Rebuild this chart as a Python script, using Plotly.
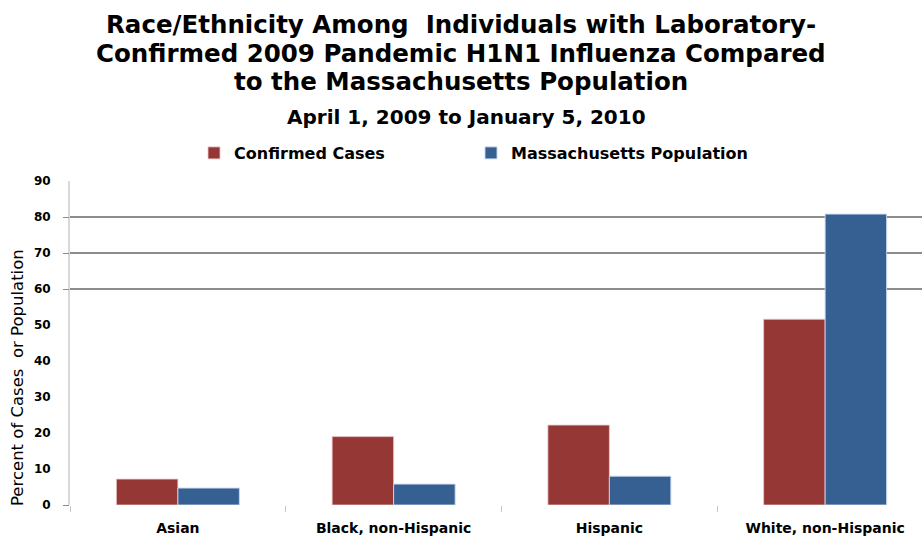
import plotly.graph_objects as go

categories = ["Asian", "Black, non-Hispanic", "Hispanic", "White, non-Hispanic"]
confirmed_cases = [7.2, 19.0, 22.2, 51.6]
ma_population = [4.7, 5.8, 8.0, 80.8]
y_ticks = [0, 10, 20, 30, 40, 50, 60, 70, 80, 90]
grid_levels = [0, 60, 70, 80]

title_lines = [
    "Race/Ethnicity Among  Individuals with Laboratory-",
    "Confirmed 2009 Pandemic H1N1 Influenza Compared",
    "to the Massachusetts Population",
]
subtitle = "April 1, 2009 to January 5, 2010"

FONT = "DejaVu Sans"
RED = "#953735"
BLUE = "#376092"

# plot-area geometry in page pixels
W, H = 922, 540
L, T, B = 70, 181, 35
PW, PH = W - L, H - T - B


def px_x(x):
    return (x - L) / PW


def px_y(y):
    return (H - B - y) / PH


fig = go.Figure()
fig.add_trace(go.Bar(
    name="<b>Confirmed Cases</b>", x=categories, y=confirmed_cases,
    marker=dict(color=RED, line=dict(color="rgba(235,200,200,0.8)", width=1)),
))
fig.add_trace(go.Bar(
    name="<b>Massachusetts Population</b>", x=categories, y=ma_population,
    marker=dict(color=BLUE, line=dict(color="rgba(200,215,240,0.9)", width=1)),
))
# invisible trace carrying the overlay axis that draws the gridlines
fig.add_trace(go.Scatter(x=[categories[0]], y=[0], yaxis="y2", mode="markers",
                         marker=dict(opacity=0), showlegend=False, hoverinfo="skip"))

fig.update_layout(
    width=W, height=H,
    margin=dict(l=L, r=0, t=T, b=B),
    paper_bgcolor="white", plot_bgcolor="white",
    barmode="group", bargap=0.43, bargroupgap=0,
    font=dict(family=FONT, color="#000000"),
    showlegend=True,
    legend=dict(orientation="h", x=px_x(194), y=px_y(153), xanchor="left", yanchor="middle",
                font=dict(family=FONT, size=16, color="#000"),
                entrywidth=232, entrywidthmode="pixels",
                itemclick=False, itemdoubleclick=False),
    xaxis=dict(
        type="category", range=[-0.5, 3.449],
        showgrid=False, showline=False, zeroline=False,
        ticks="outside", tickson="boundaries", ticklen=6, tickcolor="#c8c8c8",
        ticklabelstandoff=13,
        tickfont=dict(family=FONT, size=14, color="#000", weight="bold"),
    ),
    yaxis=dict(
        range=[0, 90], tickvals=y_ticks, ticks="",
        showgrid=False, zeroline=False,
        showline=True, linecolor="#d9d9d9", linewidth=2,
        ticklabelstandoff=15,
        tickfont=dict(family=FONT, size=12, color="#000", weight="bold"),
    ),
    yaxis2=dict(
        overlaying="y", range=[0, 90], tickvals=grid_levels,
        showticklabels=False, ticks="outside", ticklen=6, tickcolor="#8c8c8c",
        showgrid=True, gridcolor="#8c8c8c", gridwidth=1.5,
        zeroline=False, showline=False,
    ),
)

title_mid_y = [24, 53, 82]
for line, ym in zip(title_lines, title_mid_y):
    fig.add_annotation(
        text=f"<b>{line}</b>", xref="paper", yref="paper",
        x=px_x(461), y=px_y(ym), xanchor="center", yanchor="middle",
        showarrow=False, font=dict(family=FONT, size=24.5, color="#000"),
    )
fig.add_annotation(
    text=f"<b>{subtitle}</b>", xref="paper", yref="paper",
    x=px_x(466), y=px_y(117), xanchor="center", yanchor="middle",
    showarrow=False, font=dict(family=FONT, size=20, color="#000"),
)
fig.add_annotation(
    text="Percent of Cases  or Population", textangle=-90,
    xref="paper", yref="paper", x=px_x(17), y=px_y(378),
    xanchor="center", yanchor="middle", showarrow=False,
    font=dict(family=FONT, size=16.5, color="#000"),
)

fig.write_html("out.html")
